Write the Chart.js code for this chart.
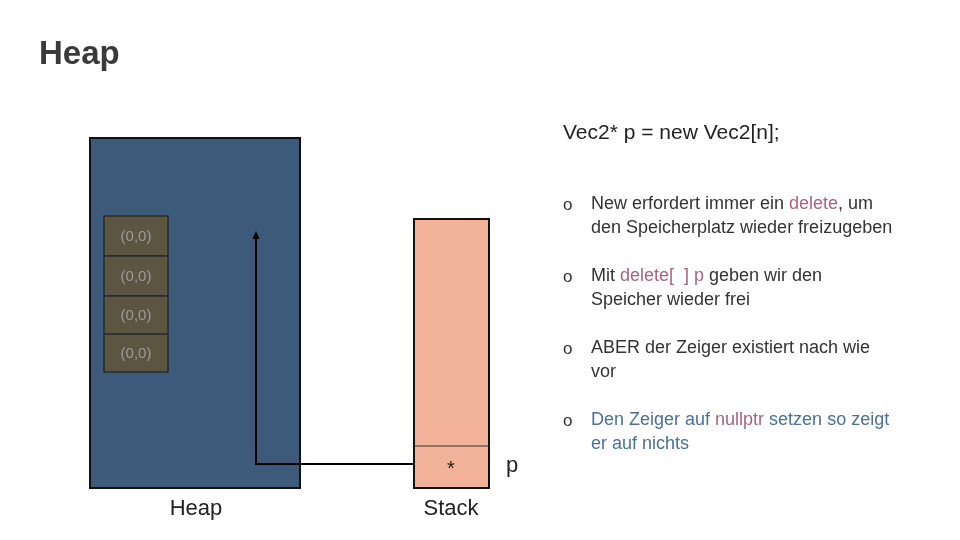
<!DOCTYPE html>
<html><head><meta charset="utf-8">
<script src="https://cdn.jsdelivr.net/npm/chart.js@4"></script>
<style>html,body{margin:0;padding:0;background:#fff}#w{position:relative;width:960px;height:540px}</style>
</head><body><div id="w"><canvas id="c" width="960" height="540"></canvas></div>
<script>
// boxes: [x0, y0, x1, y1]
const heapBox = [90, 138, 300, 488];
const cellBoxes = [[104,216,168,256],[104,256,168,296],[104,296,168,334],[104,334,168,372]];
const cellLabels = ["(0,0)","(0,0)","(0,0)","(0,0)"];
const stackBox = [414, 219, 489, 488];
const stackDivider = 446;
const arrowX = [414, 256, 256];
const arrowY = [464, 464, 234];
const bullets = [
  [["New erfordert immer ein ","#333"],["delete","#a8647a"],[", um","#333"],"\n",["den Speicherplatz wieder freizugeben","#333"]],
  [["Mit ","#333"],["delete[  ] p","#a8647a"],[" geben wir den","#333"],"\n",["Speicher wieder frei","#333"]],
  [["ABER der Zeiger existiert nach wie","#333"],"\n",["vor","#333"]],
  [["Den Zeiger auf ","#4a6fa0"],["nullptr","#a8647a"],[" setzen so zeigt","#4a6fa0"],"\n",["er auf nichts","#4a6fa0"]]
];
const bulletY = [204, 276, 348, 420];

const F = "'Liberation Sans', Arial, sans-serif";
const drawPlugin = {
  id:'draw',
  beforeDatasetsDraw(chart){
    const ctx = chart.ctx, xs = chart.scales.x, ys = chart.scales.y;
    const R = (b, fill, stroke, lw) => {
      const x0 = xs.getPixelForValue(b[0]), y0 = ys.getPixelForValue(b[1]);
      const x1 = xs.getPixelForValue(b[2]), y1 = ys.getPixelForValue(b[3]);
      ctx.fillStyle = fill; ctx.fillRect(x0,y0,x1-x0,y1-y0);
      ctx.strokeStyle = stroke; ctx.lineWidth = lw; ctx.strokeRect(x0,y0,x1-x0,y1-y0);
    };
    ctx.save();
    R(heapBox, '#3d5a7a', '#111', 2);
    cellBoxes.forEach(b => R(b, '#5c5541', '#2a2a2a', 1.5));
    R(stackBox, '#f2b199', '#111', 2);
    ctx.strokeStyle = '#333'; ctx.lineWidth = 1;
    ctx.beginPath();
    ctx.moveTo(xs.getPixelForValue(stackBox[0]), ys.getPixelForValue(stackDivider));
    ctx.lineTo(xs.getPixelForValue(stackBox[2]), ys.getPixelForValue(stackDivider));
    ctx.stroke();
    ctx.restore();
  },
  afterDatasetsDraw(chart){
    const ctx = chart.ctx, xs = chart.scales.x, ys = chart.scales.y;
    ctx.save();
    const ax = xs.getPixelForValue(arrowX[2]), ay = ys.getPixelForValue(arrowY[2]);
    ctx.fillStyle = '#000';
    ctx.beginPath(); ctx.moveTo(ax, ay-3); ctx.lineTo(ax-3.5, ay+5); ctx.lineTo(ax+3.5, ay+5); ctx.closePath(); ctx.fill();
    ctx.textBaseline = 'middle';
    ctx.fillStyle = '#9a9a9a'; ctx.font = '15px '+F; ctx.textAlign='center';
    cellBoxes.forEach((b,i)=>ctx.fillText(cellLabels[i], xs.getPixelForValue((b[0]+b[2])/2), ys.getPixelForValue((b[1]+b[3])/2)+1));
    ctx.fillStyle = '#222'; ctx.font = '22px '+F;
    ctx.fillText('Heap', 196, 509); ctx.fillText('Stack', 451, 509);
    ctx.fillText('p', 512, 466);
    ctx.font = '20px '+F; ctx.fillText('*', 451, 469);
    ctx.textAlign='left';
    ctx.fillStyle = '#3a3a3a'; ctx.font = 'bold 33px '+F; ctx.fillText('Heap', 39, 55);
    ctx.fillStyle = '#222'; ctx.font = '21px '+F; ctx.fillText('Vec2* p = new Vec2[n];', 563, 133);
    bullets.forEach((parts, i) => {
      let y = bulletY[i], x = 591;
      ctx.fillStyle = '#333'; ctx.font = '17px '+F; ctx.fillText('o', 563, y+1); ctx.font = '18px '+F;
      parts.forEach(p => {
        if (p === "\n") { y += 24; x = 591; return; }
        ctx.fillStyle = p[1]; ctx.fillText(p[0], x, y); x += ctx.measureText(p[0]).width;
      });
    });
    ctx.restore();
  }
};

new Chart(document.getElementById('c'), {
  type: 'line',
  data: { datasets: [{
    data: arrowX.map((x,i)=>({x, y: arrowY[i]})),
    borderColor: '#000', borderWidth: 2, pointRadius: 0, fill: false, tension: 0
  }]},
  options: {
    responsive: false, animation: false, devicePixelRatio: 1,
    layout: { padding: 0 },
    plugins: { legend: {display:false}, tooltip: {enabled:false} },
    scales: {
      x: { type:'linear', min:0, max:960, display:false },
      y: { type:'linear', min:0, max:540, reverse:true, display:false }
    }
  },
  plugins: [drawPlugin]
});
</script></body></html>
